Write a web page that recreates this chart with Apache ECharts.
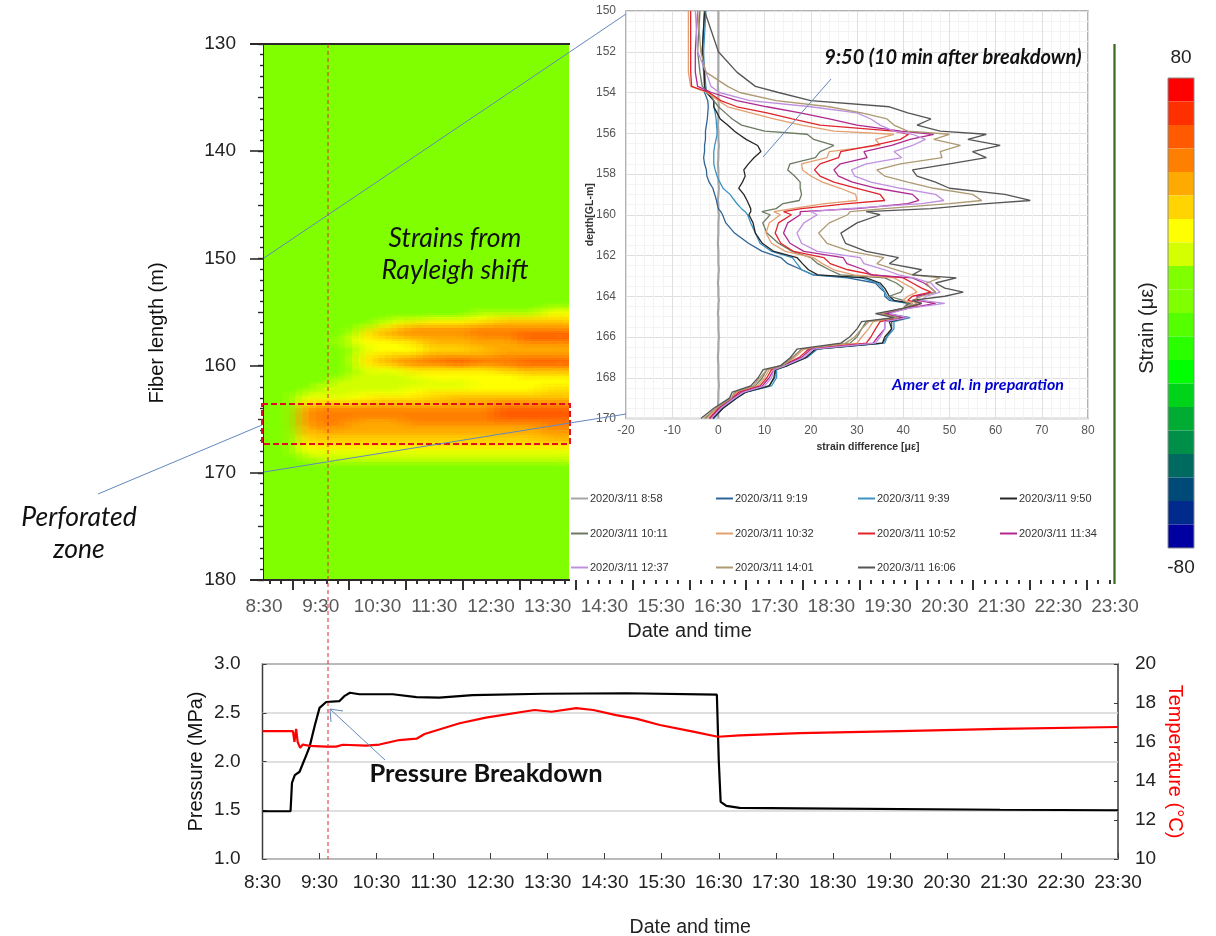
<!DOCTYPE html>
<html><head><meta charset="utf-8">
<script src="https://cdn.jsdelivr.net/npm/echarts@6/dist/echarts.min.js"></script>
<style>html,body{margin:0;padding:0;background:#fff}#c{width:1216px;height:936px}</style>
</head><body><div id="c"></div>
<script>
// ---- strain heat map: minutes after 8:30, fibre length (m), strain (ue) ----
const heatTimes = [33,48,63,78,93,108,128,148,168,193,218,243,268,293,323];
const heatDepths = [154.5,155,155.5,156,156.5,157,157.5,158,158.5,159,159.5,160,160.5,161,161.5,162,162.5,163,163.5,164,164.5,165,165.5,166,166.5,167,167.5,168,168.5];
const heatRows = [
 [4,4,4,4,4,4,4,4,4,4,4,4,4,20],
 [4,4,4,4,4,4,4,4,4,4,20,20,20,28],
 [4,4,4,4,4,4,20,20,28,28,28,36,36,36],
 [4,4,4,4,4,20,28,36,36,36,44,44,44,44],
 [4,4,4,4,20,36,44,52,52,52,52,52,52,52],
 [4,4,4,4,28,36,44,44,44,44,52,52,60,60],
 [4,4,4,20,28,28,28,36,44,44,44,44,52,52],
 [4,4,4,4,20,28,28,28,36,36,44,44,44,44],
 [4,4,4,4,20,28,28,28,36,36,36,44,44,44],
 [4,4,4,4,28,36,44,44,52,52,52,52,52,52],
 [4,4,4,4,28,36,44,52,52,60,52,52,60,60],
 [4,4,4,4,20,28,28,36,36,36,36,44,44,44],
 [4,4,4,4,20,20,20,28,28,28,28,28,36,36],
 [4,4,4,20,20,20,20,20,28,28,28,28,28,28],
 [4,4,20,20,20,20,20,20,20,20,28,28,28,28],
 [4,20,20,20,20,20,20,28,28,28,28,28,28,36],
 [20,20,20,20,28,28,28,28,36,36,36,36,36,36],
 [28,28,28,28,28,36,36,36,36,44,44,44,44,44],
 [36,44,44,44,44,44,44,44,44,44,44,52,52,52],
 [44,52,52,52,52,52,52,52,52,52,52,60,60,60],
 [44,52,52,52,52,52,52,52,52,52,52,60,60,60],
 [44,52,52,52,44,44,44,52,52,52,52,52,52,52],
 [44,44,52,44,44,44,44,44,44,44,44,44,44,52],
 [36,44,44,44,44,44,44,44,44,44,44,44,44,44],
 [36,36,36,36,36,36,36,36,36,36,36,36,36,44],
 [28,36,36,36,36,36,36,36,36,36,36,36,36,36],
 [28,28,28,28,28,28,28,28,28,28,28,28,28,28],
 [20,20,20,20,20,20,20,20,20,20,20,20,20,20],
 [4,20,20,20,20,20,20,20,20,20,20,20,20,20]
];
const heatBackground = 4;
const colourBar = ['#0000a0','#002a8c','#004a78','#006a60','#008f48','#00ad32','#00d41a','#00ff00','#2aff00','#55ff00','#80ff00','#80ff00','#d4ff00','#ffff00','#ffd400','#ffaa00','#ff8000','#ff5a00','#ff3000','#ff0000'];

// ---- inset profiles: depth (m) and strain difference per time ----
const profileDepths = [150,152,153,153.7,154,154.4, 154.7,155,155.3,155.6,155.9,156.05, 156.3,156.6,156.9,157.2,157.5,157.8, 158.1,158.4,158.7,159,159.3,159.45, 159.7,159.85,160,160.4,160.9,161.4, 161.8,162.1,162.4,162.7,162.95,163.1, 163.35,163.6,163.8,164,164.2,164.35, 164.6,164.85,165.05,165.25,165.6,166, 166.3,166.6,167,167.4,167.6,168, 168.4,168.7,169,169.5,170];
const s0858 = [0,0,0,-0.1,0,0, 0.1,0,0,-0.1,0,0, 0,0.1,0,0,-0.1,0, 0,0,0.1,0,-0.1,0, 0,0,0.1,0,0,-0.1, 0,0,0,0.1,0,0, -0.1,0,0,0,0.1,0, 0,-0.1,0,0,0,0.1, 0,0,-0.1,0,0,0, 0.1,0,0,-0.1,0];
const s0919 = [-3,-3.5,-3.2,-3,-3,-2.3, -2.2,-2.3,-2.4,-2.6,-2.8,-2.8, -2.8,-3,-3,-3.2,-3,-2.6, -2.5,-2,-1.2,-0.8,-0.4,-0.3, 0,0.5,0.9,1.6,3.5,6.5, 9.5,13.5,15,18,20.5,28, 34,35,36,36,37,41, 40,36,41,37.5,37.5,36.5, 35.5,21,19,14.5,12.4,12.2, 11,5.8,3.8,0.8,-1.2];
const s0939 = [-2.7,-3.2,-3,-2.7,-2.6,-1, -1,-0.7,-0.5,-0.4,-0.3,-0.3, -0.5,-0.8,-1,-1,-1,-0.7, -0.3,0.3,1,2.5,3.5,4, 5,5.8,6.3,7,8,9, 11.5,16,17,18,20.6,31, 34.5,35.5,36,36.5,37.5,41.5, 40,36.5,41.5,38,38,36.5, 36,21.4,19.2,15,12.6,12.6, 11.5,6,3.9,1,-1];
const s0950 = [-3,-3.5,-3,-3,-2.5,-1, -1,-0.3,0.4,2,3.5,4.4, 6,8.5,9.2,7.7,6.5,5.5, 5.8,5.2,4.4,5.5,6.2,6.5, 7,7,6.6,7.5,8,9.5, 12,17,18.2,19.5,21.5,32, 35,36,36.5,37,38,42, 40,36,41,37,37.5,36, 35.5,21,19,15,12.3,12, 11,6,3.9,1,-1.2];
const s1011 = [-4,-4.5,-4,-3.5,-2,-1, 0,1.5,3,5,10,19.2, 20.6,25,22,21,15.5,15, 16.5,17.7,17.7,18,17.5,14, 12.5,9.4,11.2,9.6,10.5,13, 16,20,21.5,24,26.4,36, 38.5,40,39.5,37,40,41, 40,35,38.5,32,31,30, 28.5,18,16,13.5,10.5,9.5, 8,3.8,2.8,-0.5,-2.8];
const s1032 = [-6.5,-6.5,-6.5,-6,-2.5,0, 2,7,12,18,25,38, 34,35,24,23.5,18,18.2, 20,22.5,26.4,29.7,30,23, 16,12,13.4,11,10.3,11.5, 14.5,20.5,22.5,25,29.3,38, 40,42,43,41,40,42, 40,35,39,33.5,32.5,31, 30,18.5,16.5,14,11,10, 8.5,4,3,-0.3,-2.5];
const s1052 = [-6,-6,-6,-5.8,-2,0.5, 4,10.5,16,22,38,41.2, 39.4,33.6,26.5,26,22,20.8, 22,25,30,35,36,28, 18,14.1,15.8,13,12.3,13.5, 16.3,22.8,24.2,28,33.6,40, 42,44,46,42,41,44, 41,36,39.5,35,34,33, 32,19.5,17.5,14,11.5,10.5, 9,4.5,3,0,-2];
const s1134 = [-4.5,-5,-5,-4.5,-1.5,4, 10.5,17.7,24,30,39.5,46.6, 41.5,37.5,31.5,32.2,26.4,25, 26,29,34.3,42,43.4,41, 30,17.7,17.7,15,14.1,15.5, 18.5,27,27.8,31.5,33,42, 44.5,46,47,43,43,47, 41,36,40,36,36,34.5, 33.5,20,18,14,12,11, 9.5,5,3.2,0.3,-1.8];
const s1237 = [-5,-4.5,-2.7,-1.6,0.2,6.8, 20,30,33,35,38,42, 44.8,42,38,39.7,32,28.8, 29.5,33,39.4,47,48.8,44, 28,20,21.4,18.5,17,18, 21.4,30.7,31.5,36,39,42.3, 46,47,48,45,44,49, 41,37,41,36,36,35, 34,20.5,18.5,14.5,12,11.5, 10,5.5,3.5,0.5,-1.5];
const s1401 = [-4.5,-3.8,-2.7,2,4.6,12.5, 24,31,36.5,38,41,50, 46.6,52.4,48,48.4,39.4,34.3, 36,41,46.6,55,57,50, 36,28.5,28,24,21.7,23.5, 28.6,35.8,34.3,38.5,42,48, 45,46,47,44,42,43, 40,35,39,32.5,31,29.5, 27.5,18,16.2,14,10.5,9, 7.5,3.5,2.8,-0.5,-3.2];
const s1606 = [-3,0,4,8,13,20, 37,41,46,43,48,58, 54,61,55,58,50,42, 43,47,50,62,67.5,58, 46,32,35,30,26.5,27.5, 32,39,37,44,42,51.5, 47,49,53,49,42,44, 40,34,38,31,30,28.4, 26.5,17,15.6,13.5,9.7,8.6, 7,3,2.4,-1,-3.8];
const profileNames = ['2020/3/11 8:58','2020/3/11 9:19','2020/3/11 9:39','2020/3/11 9:50','2020/3/11 10:11','2020/3/11 10:32','2020/3/11 10:52','2020/3/11 11:34','2020/3/11 12:37','2020/3/11 14:01','2020/3/11 16:06'];
const profileValues = [s0858,s0919,s0939,s0950,s1011,s1032,s1052,s1134,s1237,s1401,s1606];
const profileColours = ['#a6a6a6','#2f6496','#3c93c2','#262626','#6b7a60','#e2a070','#e0242c','#b0288f','#c090e0','#ad9a72','#555555'];

// ---- pressure and temperature: minutes after 8:30 ----
const pressureTimes = [0,29.5,31,34,39,44,49.5,55,60,67,81,86,92,102,137,162,186,221,295,383,478,479,480,482,488,502,565,776,900];
const pressureValues = [1.49,1.49,1.78,1.86,1.895,2.015,2.15,2.37,2.55,2.61,2.62,2.67,2.705,2.69,2.69,2.66,2.655,2.68,2.695,2.70,2.685,2.665,2.01,1.585,1.545,1.525,1.52,1.505,1.50];
const tempTimes = [0,32,33.6,35.4,37,39.6,42.4,49.5,67,77.5,84.5,109,123,144,162,170.5,207.4,235,286,304,330,348,372,393,418,453,479,502,565,670,776,900];
const tempValues = [16.56,16.56,16.01,16.67,16.0,15.7,15.87,15.8,15.76,15.76,15.86,15.81,15.87,16.1,16.17,16.41,16.96,17.25,17.64,17.55,17.74,17.64,17.38,17.2,16.87,16.53,16.27,16.34,16.46,16.56,16.67,16.77];

// ---- axis ticks: minutes after 8:30 ----
const hourTicks = [30,90,150,210,270,330,390,450,510,570,630,690,750,810,870];
const minorOffsets = [-24,-12,12,24];

const SANS = '"Liberation Sans", Arial, sans-serif';
const NOTE = 'Lato, "Open Sans", sans-serif';
function clock(m){const t=510+m;return Math.floor(t/60)+':'+String(t%60).padStart(2,'0');}

// table -> cells that partition the field
const heatEnd = heatTimes[heatTimes.length-1];
const heatBottom = heatDepths[heatDepths.length-1]+0.5;
const heatCells = [
  [0,heatEnd,130,heatDepths[0],heatBackground],
  [0,heatTimes[0],heatDepths[0],heatBottom,heatBackground],
  [0,heatEnd,heatBottom,180,heatBackground]
];
heatRows.forEach((row,r)=>row.forEach((v,c)=>{
  const bottom = r+1<heatDepths.length ? heatDepths[r+1] : heatBottom;
  heatCells.push([heatTimes[c],heatTimes[c+1],heatDepths[r],bottom,v]);
}));
// soft contours: the same cells are laid over themselves slightly shifted and averaged
const softLayers = [[0,0],[7,0.25],[-7,-0.25],[7,-0.25],[-7,0.25],[0,0.45],[0,-0.45],[14,0],[-14,0]];
function heatLayer(shift,k){
  return {type:'custom',coordinateSystem:'cartesian2d',xAxisIndex:0,yAxisIndex:0,clip:true,silent:true,
    data:heatCells,encode:{x:[0,1],y:[2,3]},
    renderItem(params,api){
      const cx=v=>Math.min(heatEnd,Math.max(0,v+shift[0])), cy=v=>Math.min(180,Math.max(130,v+shift[1]));
      const a=api.coord([cx(api.value(0)),cy(api.value(2))]),b=api.coord([cx(api.value(1)),cy(api.value(3))]);
      const x=Math.round(a[0]),y=Math.round(a[1]);
      return {type:'rect',shape:{x,y,width:Math.round(b[0])-x,height:Math.round(b[1])-y},style:{fill:api.visual('color'),opacity:1/(k+1)}};
    }};
}
const minorTicks = [6,18];
hourTicks.forEach(h=>minorOffsets.forEach(o=>minorTicks.push(h+o)));
minorTicks.push(882,894);

const legendCols = [571,716,858,1000];
const legendRows = [490,525,559];

const blue = '#6288bd';
function line(x1,y1,x2,y2,stroke,width,dash){
  return {type:'line',z:100,silent:true,shape:{x1,y1,x2,y2},style:{stroke,lineWidth:width,lineDash:dash||null}};
}
function note(text,x,y,size,opts){
  return {type:'text',z:101,silent:true,x,y,style:Object.assign({text,font:'italic '+size+'px '+NOTE,fill:'#111',align:'center',verticalAlign:'middle',lineHeight:32},opts||{})};
}
function upright(text,x,y,size,fill){
  return {type:'text',z:101,silent:true,x,y,rotation:Math.PI/2,style:{text,font:size+'px '+SANS,fill,align:'center',verticalAlign:'middle'}};
}
function barEnd(text,y){
  return {type:'text',z:101,silent:true,x:1181,y,style:{text,font:'19px '+SANS,fill:'#222',align:'center',verticalAlign:'middle'}};
}

const option = {
  animation:false,
  backgroundColor:'#fff',
  textStyle:{fontFamily:SANS},
  grid:[
    {left:264,top:44,width:851,height:536,outerBoundsMode:'none'},
    {left:626,top:11,width:462,height:407.5,show:true,backgroundColor:'#fff',borderColor:'#9a9a9a',borderWidth:1.5,outerBoundsMode:'none'},
    {left:262.5,top:664,width:855.5,height:195,show:true,borderColor:'#3c3c3c',borderWidth:1.5,outerBoundsMode:'none'}
  ],
  xAxis:[
    {gridIndex:0,type:'value',min:0,max:900,interval:60,position:'bottom',
     name:'Date and time',nameLocation:'middle',nameGap:41,nameMoveOverlap:false,nameTextStyle:{fontSize:20,color:'#222',fontFamily:SANS},
     axisLine:{show:false},axisTick:{show:true,length:10,customValues:hourTicks,lineStyle:{color:'#333',width:2}},
     axisLabel:{color:'#595959',fontSize:19,margin:17,formatter:clock,hideOverlap:false,showMinLabel:true,showMaxLabel:true},splitLine:{show:false}},
    {gridIndex:0,type:'value',min:0,max:900,interval:60,position:'bottom',
     axisLine:{show:false},axisLabel:{show:false},axisTick:{show:true,length:4,customValues:minorTicks,lineStyle:{color:'#333',width:2}},splitLine:{show:false}},
    {gridIndex:1,type:'value',min:-20,max:80,interval:10,position:'bottom',
     name:'strain difference [\u03bc\u03b5]',nameLocation:'middle',nameGap:23,nameMoveOverlap:false,nameTextStyle:{fontSize:10.5,fontWeight:'bold',color:'#333',padding:[0,0,0,22]},
     axisLine:{show:false},axisTick:{show:false},axisLabel:{color:'#555',fontSize:12,margin:6},
     splitLine:{show:true,lineStyle:{color:'#dfdfdf',width:1}},
     minorTick:{show:false,splitNumber:5},minorSplitLine:{show:true,lineStyle:{color:'#f3f3f3',width:1}}},
    {gridIndex:2,type:'value',min:0,max:900,interval:60,position:'bottom',
     name:'Date and time',nameLocation:'middle',nameGap:59,nameMoveOverlap:false,nameTextStyle:{fontSize:19.5,color:'#222'},
     axisLine:{show:false},axisTick:{show:true,inside:true,length:6,lineStyle:{color:'#3c3c3c',width:1}},
     axisLabel:{color:'#222',fontSize:19,margin:14,formatter:clock,showMinLabel:true,showMaxLabel:true},splitLine:{show:false}}
  ],
  yAxis:[
    {gridIndex:0,type:'value',inverse:true,min:130,max:180,interval:10,position:'left',
     axisLine:{show:true,lineStyle:{color:'#2a2a2a',width:2}},axisTick:{show:true,length:14,lineStyle:{color:'#2a2a2a',width:1.6}},
     axisLabel:{color:'#222',fontSize:19,margin:28},splitLine:{show:false}},
    {gridIndex:0,type:'value',inverse:true,min:130,max:180,interval:5,position:'left',
     axisLine:{show:false},axisLabel:{show:false},axisTick:{show:true,length:6,lineStyle:{color:'#2a2a2a',width:1.4}},
     minorTick:{show:true,splitNumber:5,length:4,lineStyle:{color:'#2a2a2a',width:1.4}},splitLine:{show:false}},
    {gridIndex:1,type:'value',inverse:true,min:150,max:170,interval:2,position:'left',
     name:'depth[GL-m]',nameLocation:'middle',nameGap:30,nameMoveOverlap:false,nameRotate:90,nameTextStyle:{fontSize:10.5,fontWeight:'bold',color:'#333'},
     axisLine:{show:false},axisTick:{show:false},axisLabel:{color:'#555',fontSize:12,margin:10},
     splitLine:{show:true,lineStyle:{color:'#dfdfdf',width:1}},
     minorTick:{show:false,splitNumber:4},minorSplitLine:{show:true,lineStyle:{color:'#f3f3f3',width:1}}},
    {gridIndex:2,type:'value',min:1,max:3,interval:0.5,position:'left',
     name:'Pressure (MPa)',nameLocation:'middle',nameGap:56,nameMoveOverlap:false,nameRotate:90,nameTextStyle:{fontSize:20,color:'#111'},
     axisLine:{show:false},axisTick:{show:true,inside:true,length:4,lineStyle:{color:'#3c3c3c'}},
     axisLabel:{color:'#222',fontSize:19,margin:22,formatter:v=>v.toFixed(1)},splitLine:{show:true,lineStyle:{color:'#d4d4d4',width:1.5}}},
    {gridIndex:2,type:'value',min:10,max:20,interval:2,position:'right',
     name:'Temperature (\u00b0C)',nameLocation:'middle',nameGap:47,nameMoveOverlap:false,nameRotate:-90,nameTextStyle:{fontSize:20,color:'#ff0000'},
     axisLine:{show:false},axisTick:{show:true,inside:true,length:4,lineStyle:{color:'#3c3c3c'}},
     axisLabel:{color:'#222',fontSize:19,margin:17},splitLine:{show:false}}
  ],
  visualMap:{
    type:'piecewise',seriesIndex:softLayers.map((s,i)=>i),dimension:4,left:1168,top:78,orient:'vertical',
    pieces:colourBar.map((color,i)=>({min:-80+8*i,max:-72+8*i,color})),
    itemWidth:26,itemHeight:23.5,itemGap:0,itemSymbol:'rect',showLabel:false,selectedMode:false,hoverLink:false,
    padding:0
  },
  legend:profileNames.map((name,i)=>({
    data:[name],left:legendCols[i%4],top:legendRows[Math.floor(i/4)]+3,
    padding:0,itemWidth:17,itemHeight:2,icon:'rect',selectedMode:false,
    textStyle:{fontSize:11,color:'#333',padding:[0,0,0,-3]}
  })),
  series:softLayers.map(heatLayer).concat(profileNames.map((name,i)=>({
    type:'line',name,xAxisIndex:2,yAxisIndex:2,symbol:'none',silent:true,
    data:profileValues[i].map((v,k)=>[v,profileDepths[k]]),
    color:profileColours[i],lineStyle:{color:profileColours[i],width:i===0?2.2:1.3}
  }))).concat([
    {type:'line',name:'Pressure',xAxisIndex:3,yAxisIndex:3,symbol:'none',silent:true,
     data:pressureTimes.map((t,k)=>[t,pressureValues[k]]),lineStyle:{color:'#000',width:2.2}},
    {type:'line',name:'Temperature',xAxisIndex:3,yAxisIndex:4,symbol:'none',silent:true,
     data:tempTimes.map((t,k)=>[t,tempValues[k]]),lineStyle:{color:'#ff0000',width:2.2}}
  ]),
  graphic:{elements:[
    line(250,44,570,44,'#2a2a2a',2),
    line(250,580,570,580,'#2a2a2a',2),
    {type:'rect',z:99,silent:true,shape:{x:1113,y:44,width:3,height:540},style:{fill:'#7fd03a'}},
    line(1114.5,44,1114.5,584,'#3a6b20',1.4),
    {type:'rect',z:99,silent:true,shape:{x:1168,y:78,width:26,height:470},style:{fill:'none',stroke:'#8a8a8a',lineWidth:1}},
    line(328,44,328,859,'#e0242c',1,[4,3]),
    {type:'rect',z:100,silent:true,shape:{x:262,y:404,width:308,height:40},style:{fill:'none',stroke:'#e01020',lineWidth:2,lineDash:[6,3]}},
    line(264,258,626,14,blue,1),
    line(264,472,626,414,blue,1),
    line(98,494,262,425,blue,1),
    line(831,79,763,157,blue,1),
    line(385,760,330,709,blue,1),
    line(330,709,331,722,blue,1),
    line(330,709,343,711,blue,1),
    note('Strains from\nRayleigh shift',455,254,26.5),
    note('Perforated\nzone',79,533,26.5),
    note('9:50 (10 min after breakdown)',953,58,20,{font:'italic bold 20px '+NOTE}),
    note('Amer et al. in preparation',978,385,16,{font:'italic bold 16px '+NOTE,fill:'#0000d0'}),
    note('Pressure Breakdown',486,774,25.5,{font:'bold 25.5px '+NOTE}),
    upright('Fiber length (m)',157,333,20,'#111'),
    upright('Strain (\u03bc\u03b5)',1147,328,20,'#222'),
    barEnd('80',58),
    barEnd('-80',568)
  ]}
};
const chart = echarts.init(document.getElementById('c'),null,{renderer:'canvas'});
chart.setOption(option);
</script>
</body></html>
